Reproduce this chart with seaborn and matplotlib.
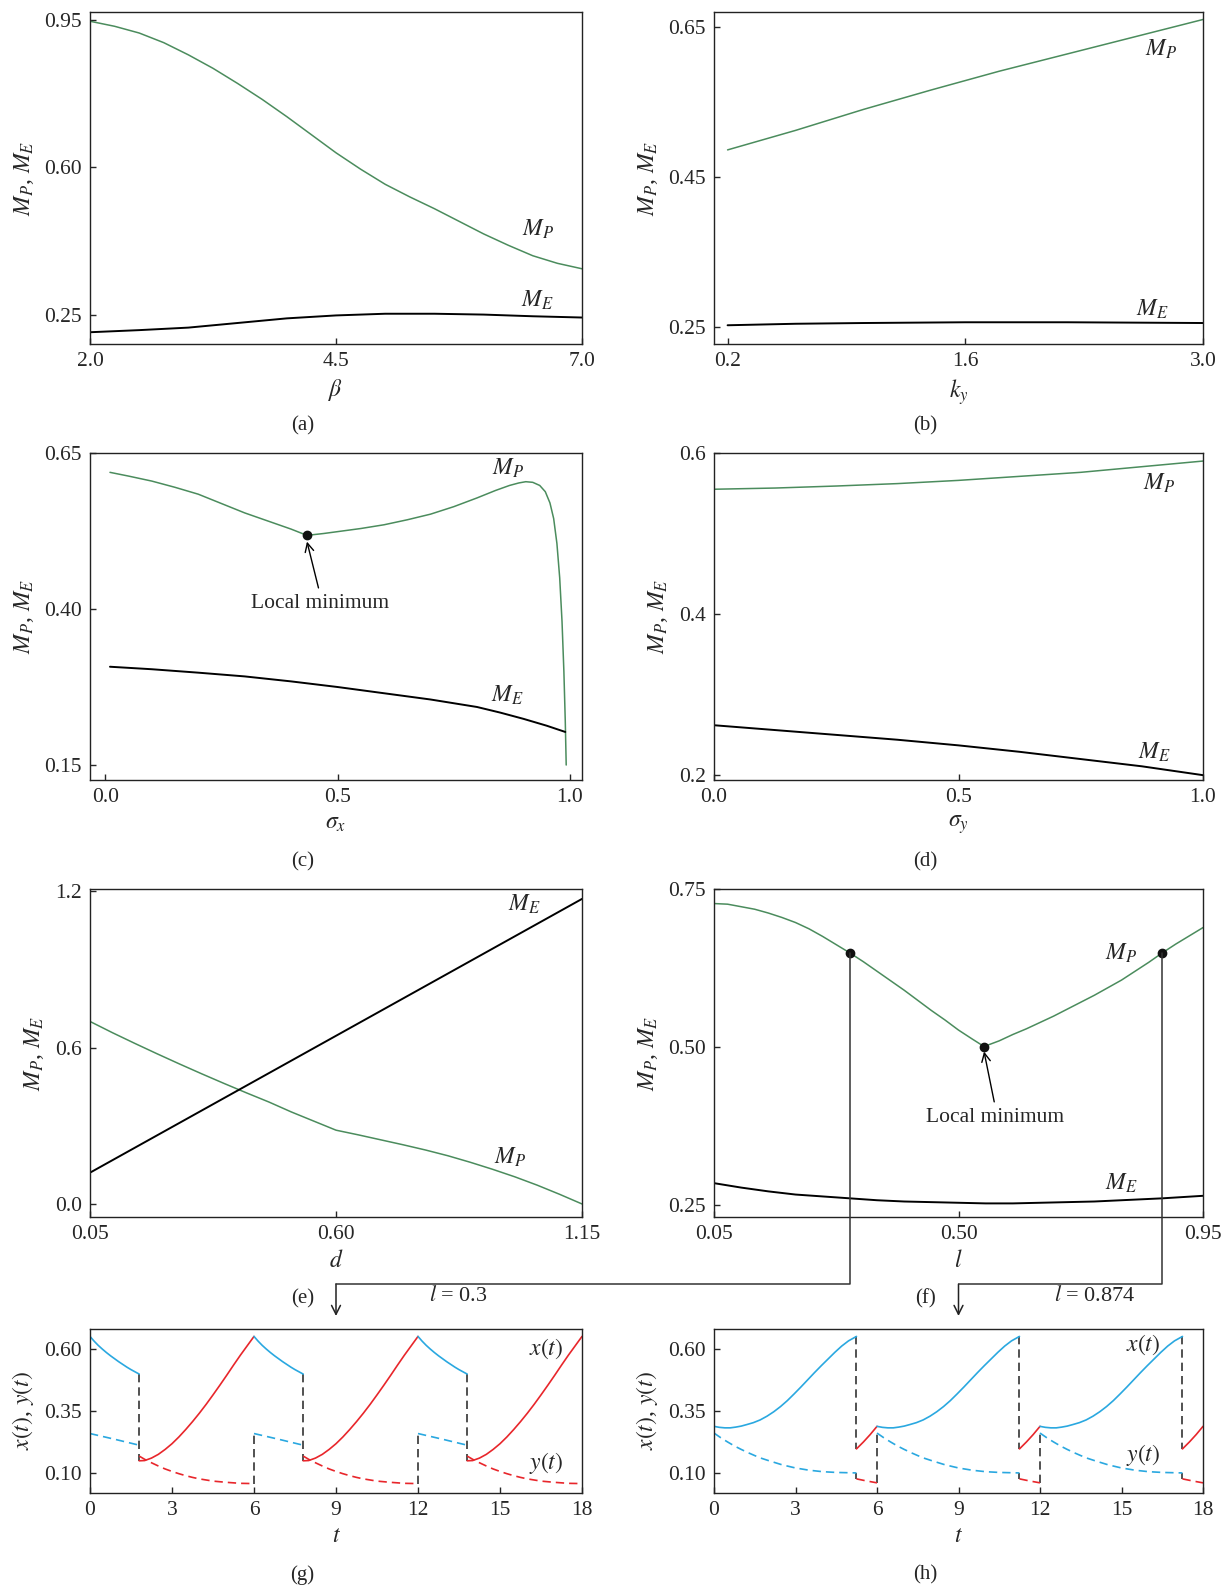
import matplotlib
matplotlib.use("Agg")
import matplotlib.pyplot as plt
from matplotlib.patches import FancyArrowPatch
from matplotlib.lines import Line2D
from matplotlib.ticker import FormatStrFormatter
import seaborn as sns

# ---------------- data ----------------
# (a) beta
beta = [2.0, 2.25, 2.5, 2.75, 3.0, 3.25, 3.5, 3.75, 4.0, 4.25, 4.5, 4.75, 5.0,
        5.25, 5.5, 5.75, 6.0, 6.25, 6.5, 6.75, 7.0]
a_mp = [0.948, 0.936, 0.920, 0.897, 0.868, 0.836, 0.800, 0.762, 0.721, 0.678, 0.635,
        0.596, 0.560, 0.530, 0.502, 0.472, 0.442, 0.415, 0.390, 0.372, 0.359]
beta_e = [2.0, 2.5, 3.0, 3.5, 4.0, 4.5, 5.0, 5.5, 6.0, 6.5, 7.0]
a_me = [0.208, 0.213, 0.219, 0.230, 0.241, 0.248, 0.252, 0.252, 0.250, 0.246, 0.243]

# (b) k_y
ky = [0.2, 0.6, 1.0, 1.4, 1.8, 2.2, 2.6, 3.0]
b_mp = [0.486, 0.512, 0.540, 0.566, 0.591, 0.614, 0.637, 0.660]
ky_e = [0.2, 0.6, 1.0, 1.6, 2.2, 2.6, 3.0]
b_me = [0.252, 0.254, 0.255, 0.256, 0.256, 0.2555, 0.255]

# (c) sigma_x
sx = [0.01, 0.05, 0.1, 0.15, 0.2, 0.25, 0.3, 0.35, 0.4, 0.434, 0.47, 0.5, 0.55,
      0.6, 0.65, 0.7, 0.75, 0.8, 0.84, 0.87, 0.89, 0.905, 0.92, 0.935, 0.947,
      0.957, 0.965, 0.972, 0.978, 0.983, 0.987, 0.99, 0.992]
c_mp = [0.619, 0.613, 0.605, 0.595, 0.584, 0.569, 0.554, 0.541, 0.528, 0.518, 0.521,
        0.524, 0.529, 0.535, 0.543, 0.552, 0.564, 0.578, 0.590, 0.598, 0.602, 0.604,
        0.603, 0.598, 0.588, 0.570, 0.545, 0.505, 0.450, 0.380, 0.300, 0.220, 0.150]
sx_e = [0.01, 0.1, 0.2, 0.3, 0.4, 0.5, 0.6, 0.7, 0.8, 0.85, 0.9, 0.95, 0.99]
c_me = [0.3075, 0.3035, 0.298, 0.292, 0.284, 0.275, 0.265, 0.255, 0.243, 0.234,
        0.224, 0.213, 0.203]
c_min = (0.434, 0.518)

# (d) sigma_y
sy = [0.0, 0.125, 0.25, 0.375, 0.5, 0.625, 0.75, 0.875, 1.0]
d_mp = [0.555, 0.5565, 0.559, 0.562, 0.566, 0.571, 0.576, 0.583, 0.590]
d_me = [0.262, 0.256, 0.250, 0.244, 0.237, 0.229, 0.220, 0.211, 0.200]

# (e) d
dd = [0.05, 0.10, 0.15, 0.20, 0.25, 0.30, 0.35, 0.40, 0.45, 0.50, 0.55, 0.60,
      0.65, 0.70, 0.75, 0.80, 0.85, 0.90, 0.95, 1.00, 1.05, 1.10, 1.15]
e_mp = [0.700, 0.657, 0.616, 0.576, 0.537, 0.499, 0.462, 0.426, 0.391, 0.353, 0.318,
        0.283, 0.265, 0.246, 0.227, 0.207, 0.185, 0.160, 0.133, 0.104, 0.072, 0.037, 0.0]
dd_e = [0.05, 1.15]
e_me = [0.12, 1.17]

# (f) l
ll = [0.05, 0.075, 0.10, 0.125, 0.15, 0.175, 0.20, 0.225, 0.25, 0.275, 0.30, 0.325,
      0.35, 0.375, 0.40, 0.425, 0.45, 0.475, 0.50, 0.525, 0.547, 0.575, 0.60, 0.625,
      0.65, 0.675, 0.70, 0.725, 0.75, 0.775, 0.80, 0.825, 0.85, 0.875, 0.90, 0.925, 0.95]
f_mp = [0.727, 0.726, 0.722, 0.718, 0.712, 0.705, 0.697, 0.687, 0.675, 0.662, 0.649,
        0.635, 0.620, 0.605, 0.590, 0.574, 0.558, 0.543, 0.527, 0.513, 0.501, 0.510,
        0.520, 0.529, 0.539, 0.549, 0.560, 0.571, 0.582, 0.594, 0.606, 0.620, 0.634,
        0.649, 0.663, 0.676, 0.689]
ll_e = [0.05, 0.10, 0.15, 0.20, 0.25, 0.30, 0.35, 0.40, 0.45, 0.50, 0.55, 0.60,
        0.65, 0.70, 0.75, 0.80, 0.875, 0.95]
f_me = [0.285, 0.278, 0.272, 0.267, 0.264, 0.261, 0.258, 0.256, 0.255, 0.254, 0.253,
        0.253, 0.254, 0.255, 0.256, 0.258, 0.261, 0.265]
f_min = (0.547, 0.501)
f_marks = [(0.30, 0.649), (0.874, 0.649)]

# (g) l = 0.3, one period of length 6 (t relative to period start)
starts = [0.0, 6.0, 12.0]
t_end = 18.0
g_bx_t = [0, 0.15, 0.3, 0.45, 0.6, 0.75, 0.9, 1.05, 1.2, 1.35, 1.5, 1.65, 1.8]
g_bx = [0.651, 0.632, 0.615, 0.600, 0.586, 0.573, 0.561, 0.549, 0.538, 0.527,
        0.517, 0.508, 0.499]
g_by_t = [0, 0.9, 1.8]
g_by = [0.259, 0.236, 0.212]
g_rx_t = [1.8, 2.0, 2.25, 2.5, 2.75, 3.0, 3.25, 3.5, 3.75, 4.0, 4.25, 4.5, 4.75,
          5.0, 5.25, 5.5, 5.75, 6.0]
g_rx = [0.149, 0.150, 0.160, 0.175, 0.195, 0.218, 0.245, 0.275, 0.307, 0.341,
        0.377, 0.415, 0.454, 0.494, 0.535, 0.575, 0.613, 0.651]
g_ry_t = [1.8, 2.0, 2.25, 2.5, 2.75, 3.0, 3.25, 3.5, 3.75, 4.0, 4.5, 5.0, 5.5, 6.0]
g_ry = [0.168, 0.155, 0.141, 0.128, 0.116, 0.106, 0.097, 0.089, 0.082, 0.076,
        0.067, 0.062, 0.058, 0.057]
g_jumps = [(1.8, 0.499, 0.149), (6.0, 0.057, 0.259)]

# (h) l = 0.874
h_bx_t = [0, 0.2, 0.4, 0.6, 0.8, 1.0, 1.2, 1.45, 1.7, 1.95, 2.2, 2.45, 2.7, 2.95,
          3.2, 3.45, 3.7, 3.95, 4.2, 4.45, 4.7, 4.95, 5.244]
h_bx = [0.288, 0.284, 0.282, 0.282, 0.285, 0.289, 0.295, 0.303, 0.314, 0.329,
        0.347, 0.368, 0.392, 0.419, 0.447, 0.476, 0.505, 0.533, 0.560, 0.587,
        0.612, 0.633, 0.651]
h_by_t = [0, 0.25, 0.5, 0.75, 1.0, 1.25, 1.5, 1.75, 2.0, 2.5, 3.0, 3.5, 4.0, 4.5, 5.244]
h_by = [0.261, 0.242, 0.225, 0.209, 0.195, 0.182, 0.170, 0.159, 0.150, 0.133,
        0.120, 0.111, 0.105, 0.102, 0.100]
h_rx_t = [5.244, 5.5, 5.75, 6.0]
h_rx = [0.197, 0.225, 0.255, 0.288]
h_ry_t = [5.244, 5.6, 6.0]
h_ry = [0.076, 0.068, 0.060]
h_jumps = [(5.244, 0.651, 0.197), (5.244, 0.100, 0.076), (6.0, 0.060, 0.261)]

GREEN = "#4b8c5d"
BLUE = "#2aa8e0"
RED = "#e8262b"
DASH = (0, (5, 3))

sns.set_style("ticks")
plt.rcParams["font.family"] = ["Liberation Serif", "DejaVu Serif"]
plt.rcParams["mathtext.fontset"] = "stix"
plt.rcParams["axes.linewidth"] = 1.0

W, H = 1228, 1588
fig = plt.figure(figsize=(W / 100, H / 100), dpi=100)


def box(l, t, r, b):
    return [l / W, 1 - b / H, (r - l) / W, (b - t) / H]


cols = [(90, 582), (714, 1203)]
rows = [(12, 344), (453, 780), (889, 1217), (1329, 1493)]
axes = {}
for i, name in enumerate("abcdefgh"):
    (l, r), (t, b) = cols[i % 2], rows[i // 2]
    axes[name] = fig.add_axes(box(l, t, r, b))


def curve(ax, x, y, color, lw=1.1, ls="-"):
    sns.lineplot(x=x, y=y, ax=ax, color=color, linewidth=lw, linestyle=ls,
                 sort=False, estimator=None)


def style(ax, xlim, ylim, xt, yt, xfmt, yfmt, xlabel, ylabel, tag):
    ax.set_xlim(*xlim)
    ax.set_ylim(*ylim)
    ax.set_xticks(xt)
    ax.set_yticks(yt)
    ax.xaxis.set_major_formatter(FormatStrFormatter(xfmt))
    ax.yaxis.set_major_formatter(FormatStrFormatter(yfmt))
    ax.tick_params(direction="in", length=4, width=1, top=False, right=False,
                   labelsize=15.5, pad=6)
    ax.set_xlabel(xlabel, fontsize=17, labelpad=4)
    ax.set_ylabel(ylabel, fontsize=17, labelpad=6)
    for s in ax.spines.values():
        s.set_visible(True)
        s.set_color("#222222")
    ax.annotate(tag, xy=(0.5, 0), xycoords="axes fraction", xytext=(-24, -59),
                textcoords="offset points", ha="center", va="center", fontsize=15)


def lab(ax, x, y, s):
    ax.text(x, y, s, fontsize=17, ha="center", va="center")


MPME = "$M_P$, $M_E$"

# (a)
ax = axes["a"]
curve(ax, beta, a_mp, GREEN)
curve(ax, beta_e, a_me, "black", lw=1.4)
lab(ax, 6.55, 0.452, "$M_P$")
lab(ax, 6.55, 0.285, "$M_E$")
style(ax, (2.0, 7.0), (0.180, 0.970), [2.0, 4.5, 7.0], [0.25, 0.60, 0.95],
      "%.1f", "%.2f", r"$\beta$", MPME, "(a)")

# (b)
ax = axes["b"]
curve(ax, ky, b_mp, GREEN)
curve(ax, ky_e, b_me, "black", lw=1.4)
lab(ax, 2.75, 0.620, "$M_P$")
lab(ax, 2.70, 0.273, "$M_E$")
style(ax, (0.12, 3.0), (0.227, 0.670), [0.2, 1.6, 3.0], [0.25, 0.45, 0.65],
      "%.1f", "%.2f", "$k_y$", MPME, "(b)")

# (c)
ax = axes["c"]
curve(ax, sx, c_mp, GREEN)
curve(ax, sx_e, c_me, "black", lw=1.4)
ax.plot(*c_min, "o", color="#111111", ms=6, zorder=5)
ax.annotate("Local minimum", xy=(c_min[0], c_min[1] - 0.01), xytext=(0.462, 0.409),
            ha="center", va="center", fontsize=15.5,
            arrowprops=dict(arrowstyle="->", color="black", lw=1.0,
                            relpos=(0.5, 1.0), shrinkA=2, shrinkB=0))
lab(ax, 0.866, 0.626, "$M_P$")
lab(ax, 0.866, 0.262, "$M_E$")
style(ax, (-0.033, 1.026), (0.126, 0.65), [0.0, 0.5, 1.0], [0.15, 0.40, 0.65],
      "%.1f", "%.2f", r"$\sigma_x$", MPME, "(c)")

# (d)
ax = axes["d"]
curve(ax, sy, d_mp, GREEN)
curve(ax, sy, d_me, "black", lw=1.4)
lab(ax, 0.91, 0.562, "$M_P$")
lab(ax, 0.90, 0.228, "$M_E$")
style(ax, (0.0, 1.0), (0.194, 0.6), [0.0, 0.5, 1.0], [0.2, 0.4, 0.6],
      "%.1f", "%.1f", r"$\sigma_y$", MPME, "(d)")

# (e)
ax = axes["e"]
curve(ax, dd, e_mp, GREEN)
curve(ax, dd_e, e_me, "black", lw=1.4)
lab(ax, 1.02, 1.15, "$M_E$")
lab(ax, 0.99, 0.18, "$M_P$")
style(ax, (0.05, 1.15), (-0.05, 1.208), [0.05, 0.60, 1.15], [0.0, 0.6, 1.2],
      "%.2f", "%.1f", "$d$", MPME, "(e)")

# (f)
ax = axes["f"]
curve(ax, ll, f_mp, GREEN)
curve(ax, ll_e, f_me, "black", lw=1.4)
for px, py in [f_min] + f_marks:
    ax.plot(px, py, "o", color="#111111", ms=6, zorder=5)
ax.annotate("Local minimum", xy=(f_min[0], f_min[1] - 0.008), xytext=(0.568, 0.389),
            ha="center", va="center", fontsize=15.5,
            arrowprops=dict(arrowstyle="->", color="black", lw=1.0,
                            relpos=(0.5, 1.0), shrinkA=2, shrinkB=0))
lab(ax, 0.80, 0.648, "$M_P$")
lab(ax, 0.80, 0.285, "$M_E$")
style(ax, (0.05, 0.95), (0.2315, 0.75), [0.05, 0.50, 0.95], [0.25, 0.50, 0.75],
      "%.2f", "%.2f", "$l$", MPME, "(f)")


# (g), (h)
def trajectories(ax, bx_t, bx, by_t, by, rx_t, rx, ry_t, ry, jumps):
    for s in starts:
        sh = lambda ts: [s + v for v in ts]
        curve(ax, sh(bx_t), bx, BLUE, lw=1.2)
        curve(ax, sh(by_t), by, BLUE, lw=1.2, ls=DASH)
        curve(ax, sh(rx_t), rx, RED, lw=1.2)
        curve(ax, sh(ry_t), ry, RED, lw=1.2, ls=DASH)
        for jt, y0, y1 in jumps:
            if s + jt < t_end:
                ax.plot([s + jt, s + jt], [y0, y1], color="#333333", lw=1.2,
                        linestyle=DASH, zorder=1)


ax = axes["g"]
trajectories(ax, g_bx_t, g_bx, g_by_t, g_by, g_rx_t, g_rx, g_ry_t, g_ry, g_jumps)
lab(ax, 16.7, 0.60, "$x(t)$")
lab(ax, 16.7, 0.14, "$y(t)$")
style(ax, (0, t_end), (0.019, 0.681), list(range(0, 19, 3)), [0.10, 0.35, 0.60],
      "%d", "%.2f", "$t$", "$x(t)$, $y(t)$", "(g)")

ax = axes["h"]
trajectories(ax, h_bx_t, h_bx, h_by_t, h_by, h_rx_t, h_rx, h_ry_t, h_ry, h_jumps)
lab(ax, 15.8, 0.617, "$x(t)$")
lab(ax, 15.8, 0.174, "$y(t)$")
style(ax, (0, t_end), (0.019, 0.681), list(range(0, 19, 3)), [0.10, 0.35, 0.60],
      "%d", "%.2f", "$t$", "$x(t)$, $y(t)$", "(h)")

# connectors from (f) markers down to (g) and (h)
fig.canvas.draw()
to_fig = fig.transFigure.inverted()
elbow_y = 1 - 1284 / H
arrow_end = 1 - 1316 / H
for (px, py), target, txt, tx in zip(f_marks, [axes["g"], axes["h"]],
                                     ["$l$ = 0.3", "$l$ = 0.874"], [458, 1095]):
    mx, my = to_fig.transform(axes["f"].transData.transform((px, py)))
    cx, _ = to_fig.transform(target.transData.transform((9, 0.3)))
    fig.add_artist(Line2D([mx, mx, cx], [my, elbow_y, elbow_y],
                          transform=fig.transFigure, color="#333333", lw=1.1))
    fig.add_artist(FancyArrowPatch((cx, elbow_y), (cx, arrow_end),
                                   transform=fig.transFigure, arrowstyle="->",
                                   mutation_scale=16, color="#222222", lw=1.1,
                                   shrinkA=0, shrinkB=0))
    fig.text(tx / W, 1 - 1296 / H, txt, fontsize=16, ha="center", va="center")

fig.savefig("out.png", dpi=100)
